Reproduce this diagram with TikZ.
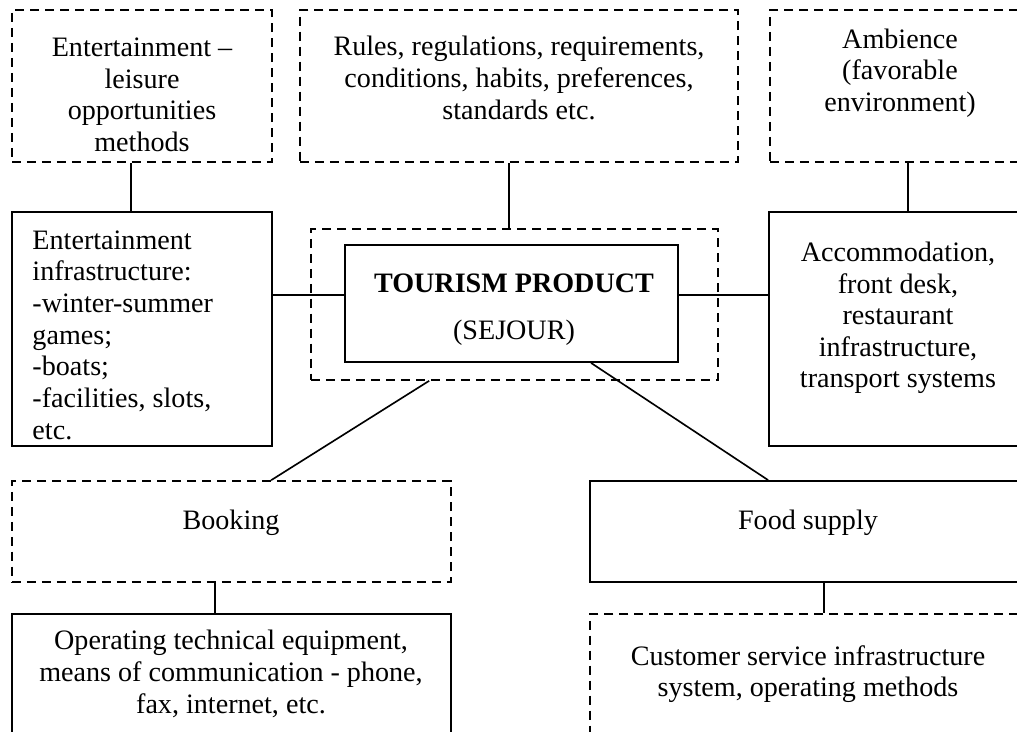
\documentclass[tikz,border=0pt]{standalone}
\usepackage{fontspec}
\setmainfont{Liberation Serif}
\usetikzlibrary{fit,calc}

\tikzset{
  solidbox/.style={draw,line width=0.8pt,inner sep=0pt},
  dashbox/.style={draw,line width=0.7pt,inner sep=0pt,dash pattern=on 4pt off 2.4pt},
  txt/.style={align=center,inner sep=0pt,font=\fontsize{12}{13.5}\selectfont},
  link/.style={line width=0.7pt},
}

\begin{document}
\begin{tikzpicture}[x=0.015cm,y=-0.015cm]
  \useasboundingbox (0,0) rectangle (1017,731);
  \clip (0,0) rectangle (1017,731);
  % outer frames
  \node(leisure)[dashbox,fit={(12,10) (272,162)}] {};
  \node(rules)[dashbox,fit={(300,10) (738,162)}] {};
  \node(ambience)[dashbox,fit={(770,10) (1028,162)}] {};
  \node(infra)[solidbox,fit={(12,212) (272,446)}] {};
  \node(sejour)[dashbox,fit={(311,229) (718,380)}] {};
  \node(product)[solidbox,fit={(345,245) (678,362)}] {};
  \node(accom)[solidbox,fit={(769,212) (1028,446)}] {};
  \node(booking)[dashbox,fit={(12,481) (451,582)}] {};
  \node(food)[solidbox,fit={(590,481) (1026,582)}] {};
  \node(operating)[solidbox,fit={(12,614) (451,770)}] {};
  \node(customer)[dashbox,fit={(590,614) (1026,770)}] {};
  % texts
  \node(leisuretxt)[txt] at (142,95) {Entertainment --\\leisure\\opportunities\\methods};
  \node(rulestxt)[txt] at (519,78) {Rules, regulations, requirements,\\conditions, habits, preferences,\\standards etc.};
  \node(ambiencetxt)[txt] at (900,73) {Ambience\\(favorable\\environment)};
  \node(infratxt)[txt,align=left,anchor=west] at (32,335) {Entertainment\\infrastructure:\\-winter-summer\\games;\\-boats;\\-facilities, slots,\\etc.};
  \node(producttxt)[txt] at (514,310) {\textbf{TOURISM PRODUCT}\\[6.5pt](SEJOUR)};
  \node(accomtxt)[txt] at (898,318) {Accommodation,\\front desk,\\restaurant\\infrastructure,\\transport systems};
  \node(bookingtxt)[txt] at (231,523) {Booking};
  \node(foodtxt)[txt] at (808,523) {Food supply};
  \node(operatingtxt)[txt] at (231,674) {Operating technical equipment,\\means of communication - phone,\\fax, internet, etc.};
  \node(customertxt)[txt] at (808,674) {Customer service infrastructure\\system, operating methods};
  % connectors
  \draw[link] ($(leisure.south west)+(120,0)$) coordinate(l1) -- (l1 |- infra.north);
  \draw[link] ($(rules.south west)+(210,0)$) coordinate(l2) -- (l2 |- sejour.north);
  \draw[link] ($(ambience.south west)+(139,0)$) coordinate(l3) -- (l3 |- accom.north);
  \draw[link] ($(infra.north east)+(0,84)$) coordinate(l4) -- (l4 -| product.west);
  \draw[link] ($(product.north east)+(0,51)$) coordinate(l5) -- (l5 -| accom.west);
  \draw[link] ($(sejour.south west)+(119,0)$) -- ($(booking.north west)+(260,0)$);
  \draw[link] ($(product.south west)+(247,0)$) -- ($(food.north west)+(179,0)$);
  \draw[link] ($(booking.south west)+(204,0)$) coordinate(l6) -- (l6 |- operating.north);
  \draw[link] ($(food.south west)+(235,0)$) coordinate(l7) -- (l7 |- customer.north);
\end{tikzpicture}
\end{document}
